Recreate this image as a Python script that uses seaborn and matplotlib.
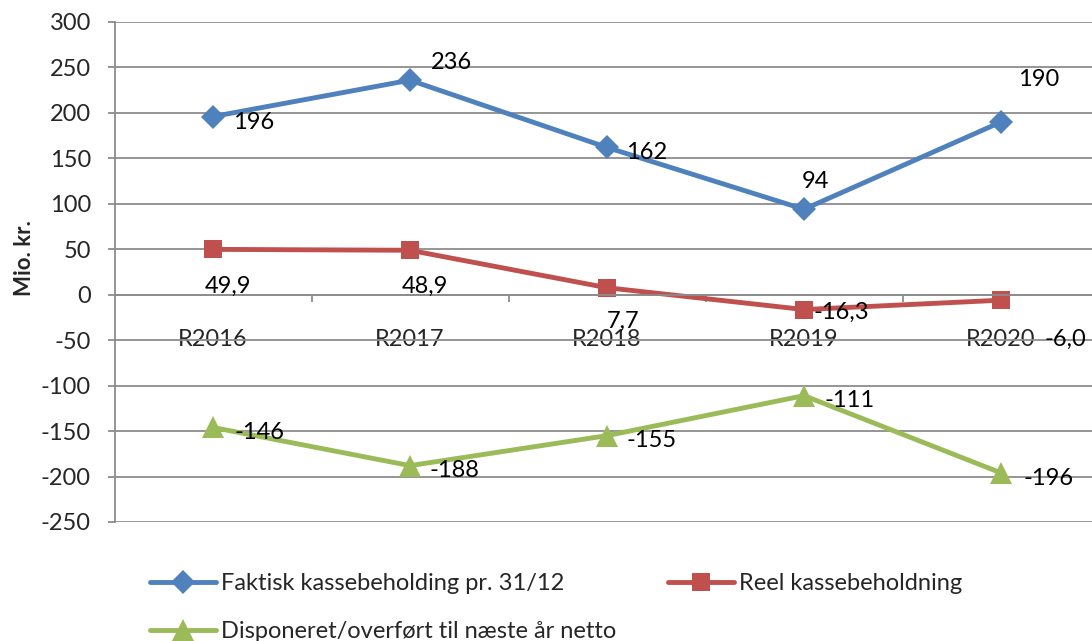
import numpy as np
import pandas as pd
import matplotlib
matplotlib.use('Agg')
import matplotlib.pyplot as plt
import seaborn as sns

# data
years = ['R2016', 'R2017', 'R2018', 'R2019', 'R2020']
faktisk = [196, 236, 162, 94, 190]
reel = [49.9, 48.9, 7.7, -16.3, -6.0]
disponeret = [-146, -188, -155, -111, -196]
series_names = ['Faktisk kassebeholding pr. 31/12',
                'Reel kassebeholdning',
                'Disponeret/overført til næste år netto']
y_ticks = list(range(-250, 301, 50))

sns.set_theme(style='white')
plt.rcParams['font.family'] = ['Lato', 'DejaVu Sans']

colors = ['#4F81BD', '#C0504D', '#9BBB59']
markers = ['D', 's', '^']
msizes = [12, 13.5, 16]

# label offsets in pixels (dx, dy), dy positive = lower in picture
offsets = [
    [(41, 6), (41, -18), (40, 5), (11, -28), (38, -42)],
    [(15, 37), (15, 36), (16, 34), (37, 3), (64, 39)],
    [(46, 5), (44, 5), (45, 5), (46, 5), (48, 6)],
]

fig = plt.figure(figsize=(10.92, 6.41), dpi=100)
ax = fig.add_axes([114.5 / 1092, 1 - 522 / 641, 985 / 1092, 500 / 641])

x = np.arange(len(years))
all_vals = [faktisk, reel, disponeret]
for vals, name, c, m, ms in zip(all_vals, series_names, colors, markers, msizes):
    df = pd.DataFrame({'x': x, 'y': vals})
    sns.lineplot(data=df, x='x', y='y', ax=ax, color=c, marker=m,
                 markersize=ms, markeredgewidth=0, linewidth=3.5,
                 label=name, legend=False)

# data labels
for vals, offs in zip(all_vals, offsets):
    for xi, v, (dx, dy) in zip(x, vals, offs):
        if isinstance(v, float):
            txt = f'{v:.1f}'.replace('.', ',')
        else:
            txt = str(v)
        ax.annotate(txt, (xi, v), xytext=(dx * 0.72, -dy * 0.72),
                    textcoords='offset points', ha='center', va='center',
                    fontsize=17, color='black')

ax.set_xlim(-0.5, 4.5)
ax.set_ylim(-250, 300)
ax.set_yticks(y_ticks)
ax.set_yticklabels([str(t) for t in y_ticks])
ax.yaxis.grid(True, color='#8c8c8c', linewidth=1.3)
ax.set_axisbelow(True)

for s in ['top', 'right']:
    ax.spines[s].set_visible(False)
ax.spines['left'].set_color('#8c8c8c')
ax.spines['left'].set_linewidth(1.3)
ax.spines['bottom'].set_position(('data', 0))
ax.spines['bottom'].set_color('#8c8c8c')
ax.spines['bottom'].set_linewidth(1.3)

ax.set_xticks(x)
ax.set_xticklabels(years)
ax.set_xticks(np.arange(0.5, 4.0, 1.0), minor=True)
ax.tick_params(axis='x', which='major', length=0, pad=25, labelsize=17)
ax.tick_params(axis='x', which='minor', bottom=True, length=5,
               width=1.3, color='#8c8c8c', direction='out')
ax.tick_params(axis='y', left=True, length=5, width=1.3, color='#8c8c8c',
               pad=12, labelsize=17)
ax.set_xlabel('')
ax.set_ylabel('Mio. kr.', fontsize=16, fontweight='bold')
ax.yaxis.set_label_coords(-0.081, 0.528)

handles, labels = ax.get_legend_handles_labels()
order = [0, 2, 1]
fig.legend([handles[i] for i in order], [labels[i] for i in order],
           loc='upper left', bbox_to_anchor=(150 / 1092, 1 - 573 / 641),
           ncol=2, frameon=False, fontsize=17, handlelength=2.8,
           columnspacing=2.2, handletextpad=0.2, labelspacing=1.15,
           borderaxespad=0, borderpad=0)

fig.savefig('out.png', dpi=100)
